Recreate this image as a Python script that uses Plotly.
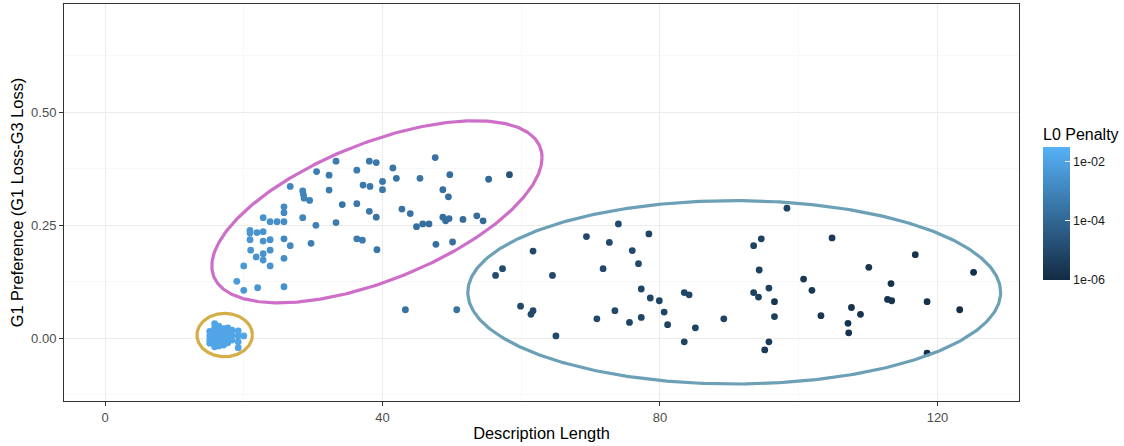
import numpy as np
import plotly.graph_objects as go

# ---------------- data ----------------
# small cluster (yellow ellipse)
cluster_x = [15.1, 15.1, 15.1, 15.1,
             15.8, 15.8, 15.8, 15.8, 15.8, 15.8, 15.8,
             16.4, 16.4, 16.4, 16.4, 16.4, 16.4,
             17.1, 17.1, 17.1, 17.1, 17.1,
             17.7, 17.7, 17.7, 17.7,
             18.3, 18.3, 18.3,
             19.2, 19.2, 19.2, 19.2,
             20.0]
cluster_y = [0.015, 0.005, -0.004, -0.011,
             0.032, 0.023, 0.014, 0.005, -0.004, -0.013, -0.019,
             0.027, 0.018, 0.010, 0.001, -0.008, -0.017,
             0.021, 0.012, 0.003, -0.006, -0.015,
             0.023, 0.012, 0.001, -0.010,
             0.018, 0.007, -0.004,
             0.016, 0.005, -0.008, -0.021,
             0.005]
cluster_pen = [-1.9] * 34

# middle group (pink ellipse)
mid_x = [33.3, 30.5, 32.3, 26.7, 32.3, 28.5, 28.6, 28.7, 29.5, 25.8,
         34.2, 25.8, 22.8, 28.5, 23.8, 24.8, 25.8, 30.4, 33.3, 20.9,
         20.9, 21.9, 22.8, 20.9, 22.8, 23.8, 25.8, 29.7, 26.7, 21.0,
         23.8, 22.8, 21.8, 25.8, 22.8, 20.0, 23.8, 19.0, 20.0, 22.0,
         25.8, 47.6, 38.1, 39.1, 36.3, 41.5, 49.7, 58.3, 55.3, 45.4,
         42.0, 40.0, 37.2, 38.2, 40.0, 48.7, 49.5, 36.3, 38.1, 39.1,
         42.8, 44.0, 48.7, 49.1, 49.6, 51.6, 53.6, 54.5, 44.9, 45.8,
         46.7, 36.3, 37.1, 47.7, 50.1, 39.2]
mid_y = [0.392, 0.369, 0.361, 0.336, 0.328, 0.326, 0.318, 0.310, 0.305, 0.291,
         0.296, 0.278, 0.267, 0.267, 0.258, 0.258, 0.258, 0.250, 0.256, 0.239,
         0.233, 0.234, 0.236, 0.218, 0.215, 0.218, 0.220, 0.210, 0.205, 0.195,
         0.195, 0.187, 0.180, 0.177, 0.173, 0.160, 0.160, 0.126, 0.106, 0.112,
         0.114, 0.400, 0.392, 0.389, 0.372, 0.377, 0.362, 0.362, 0.352, 0.354,
         0.354, 0.347, 0.339, 0.336, 0.329, 0.329, 0.313, 0.298, 0.281, 0.268,
         0.286, 0.276, 0.268, 0.260, 0.265, 0.263, 0.271, 0.260, 0.247, 0.253,
         0.253, 0.220, 0.217, 0.208, 0.213, 0.196]
mid_pen = [-3.3, -3.2, -3.3, -2.9, -3.3, -3.0, -3.0, -3.0, -3.1, -2.8,
           -3.5, -2.8, -2.5, -3.0, -2.6, -2.7, -2.7, -3.1, -3.3, -2.4,
           -2.4, -2.5, -2.5, -2.4, -2.5, -2.6, -2.9, -3.2, -2.8, -2.4,
           -2.6, -2.5, -2.5, -2.7, -2.5, -2.3, -2.5, -2.2, -2.3, -2.4,
           -2.6, -3.6, -3.4, -3.4, -3.3, -3.5, -3.7, -4.7, -3.9, -3.5,
           -3.5, -3.4, -3.4, -3.4, -3.4, -3.7, -3.7, -3.4, -3.4, -3.5,
           -3.6, -3.6, -3.7, -3.7, -3.7, -3.8, -3.8, -3.9, -3.7, -3.7,
           -3.7, -3.3, -3.3, -3.7, -3.7, -3.5]

# two points outside the ellipses
out_x = [43.3, 50.7]
out_y = [0.063, 0.063]
out_pen = [-3.6, -3.6]

# long descriptions (blue ellipse)
long_x = [61.7, 74.0, 69.4, 72.7, 78.4, 76.0, 76.9, 71.8, 56.3, 57.3,
          64.5, 77.3, 78.6, 79.9, 83.5, 84.2, 59.9, 61.4, 61.7, 70.9,
          73.5, 75.6, 77.3, 80.6, 81.1, 65.0, 83.5, 85.1, 89.2, 93.5,
          94.6, 98.3, 94.3, 93.5, 94.2, 95.7, 96.5, 96.5, 95.7, 95.1,
          104.8, 100.7, 101.9, 103.2, 110.1, 107.6, 108.9, 107.1, 107.2, 113.3,
          112.8, 113.4, 116.8, 118.5, 118.5, 123.2, 125.2]
long_y = [0.193, 0.253, 0.225, 0.212, 0.231, 0.194, 0.165, 0.154, 0.139, 0.154,
          0.139, 0.109, 0.089, 0.083, 0.101, 0.096, 0.071, 0.053, 0.061, 0.043,
          0.061, 0.035, 0.046, 0.058, 0.030, 0.005, -0.008, 0.023, 0.043, 0.205,
          0.220, 0.288, 0.151, 0.101, 0.091, 0.111, 0.081, 0.048, -0.008, -0.026,
          0.222, 0.131, 0.106, 0.050, 0.157, 0.068, 0.053, 0.033, 0.012, 0.121,
          0.086, 0.083, 0.185, 0.081, -0.033, 0.063, 0.146]
long_pen = [-5.0, -5.0, -5.0, -5.0, -5.1, -5.0, -5.0, -5.0, -4.9, -4.9,
            -5.0, -5.1, -5.1, -5.1, -5.1, -5.1, -5.0, -5.0, -5.0, -5.0,
            -5.0, -5.1, -5.1, -5.2, -5.2, -5.0, -5.2, -5.2, -5.2, -5.2,
            -5.2, -5.2, -5.3, -5.3, -5.3, -5.3, -5.7, -5.3, -5.5, -5.5,
            -5.5, -5.6, -5.6, -5.6, -5.6, -5.7, -5.7, -5.7, -5.7, -5.8,
            -5.7, -5.7, -5.7, -5.8, -5.9, -5.9, -5.9]

# ellipse annotations: (centre x, centre y, x radius, y-terms)
pink_ell = dict(cx=39.2, cy=0.280, ax=23.8, bxc=0.120, bys=-0.162)
blue_ell = dict(cx=90.7, cy=0.1016, rx=38.4, ry=0.203)
gold_ell = dict(cx=17.25, cy=0.007, rx=4.0, ry=0.048)

cbar_vals = [-6, -4, -2]
cbar_text = ["1e-06", "1e-04", "1e-02"]

# ---------------- figure ----------------
xs = cluster_x + mid_x + out_x + long_x
ys = cluster_y + mid_y + out_y + long_y
pens = cluster_pen + mid_pen + out_pen + long_pen

font_fam = "Liberation Sans, Arial, sans-serif"
fig = go.Figure()

t = np.linspace(0, 2 * np.pi, 400)
ell_traces = [
    (pink_ell["cx"] + pink_ell["ax"] * np.cos(t),
     pink_ell["cy"] + pink_ell["bxc"] * np.cos(t) + pink_ell["bys"] * np.sin(t),
     "#CD6FC9"),
    (blue_ell["cx"] + blue_ell["rx"] * np.cos(t),
     blue_ell["cy"] + blue_ell["ry"] * np.sin(t), "#6CA0B6"),
    (gold_ell["cx"] + gold_ell["rx"] * np.cos(t),
     gold_ell["cy"] + gold_ell["ry"] * np.sin(t), "#D5AE47"),
]

fig.add_trace(go.Scatter(
    x=xs, y=ys, mode="markers",
    marker=dict(size=6.8, color=pens, cmin=-6, cmax=-1.5,
                colorscale=[[0, "#132B43"], [1, "#56B1F7"]],
                showscale=True,
                colorbar=dict(
                    title=dict(text="L0 Penalty", side="top",
                               font=dict(size=16, color="#000000", family=font_fam)),
                    tickvals=cbar_vals, ticktext=cbar_text,
                    ticks="inside", ticklen=5, tickcolor="#FFFFFF", tickwidth=1,
                    tickfont=dict(size=12.5, color="#1A1A1A", family=font_fam),
                    thickness=27, thicknessmode="pixels",
                    len=175, lenmode="pixels",
                    x=1.0, xpad=24, xanchor="left",
                    y=(401 - 202.5) / 397, yanchor="middle",
                    outlinewidth=0, bgcolor="rgba(0,0,0,0)")),
    showlegend=False, hoverinfo="skip"))

for ex, ey, col in ell_traces:
    fig.add_trace(go.Scatter(x=ex, y=ey, mode="lines",
                             line=dict(color=col, width=3.2),
                             showlegend=False, hoverinfo="skip"))

axis_common = dict(
    showgrid=True, gridcolor="#EBEBEB", gridwidth=1,
    zeroline=False, showline=True, mirror=True,
    linecolor="#333333", linewidth=1,
    ticks="outside", ticklen=4, tickcolor="#333333", tickwidth=1,
    tickfont=dict(size=13, color="#4D4D4D", family=font_fam),
    automargin=False,
)

fig.update_layout(
    width=1124, height=446,
    margin=dict(l=64, r=105, t=4, b=45, autoexpand=False),
    paper_bgcolor="white", plot_bgcolor="white",
    font=dict(family=font_fam),
    xaxis=dict(range=[-5.91, 131.75], tick0=0, dtick=40,
               minor=dict(showgrid=True, dtick=20, gridcolor="#F3F3F3", gridwidth=0.6),
               title=dict(text="Description Length", standoff=3,
                          font=dict(size=16.4, color="#000000", family=font_fam)),
               **axis_common),
    yaxis=dict(range=[-0.139, 0.740], tick0=0, dtick=0.25, tickformat=".2f",
               minor=dict(showgrid=True, dtick=0.125, gridcolor="#F3F3F3", gridwidth=0.6),
               title=dict(text="G1 Preference (G1 Loss-G3 Loss)", standoff=3,
                          font=dict(size=16.4, color="#000000", family=font_fam)),
               **axis_common),
)

fig.write_html(
    "out.html",
    config={"displayModeBar": False, "staticPlot": True},
    post_script="document.body.style.margin='0';document.body.style.overflow='hidden';",
)
